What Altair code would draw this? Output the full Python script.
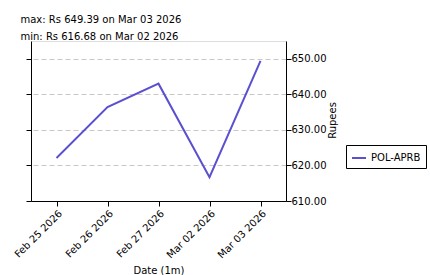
import altair as alt
import pandas as pd

dates = ["Feb 25 2026", "Feb 26 2026", "Feb 27 2026", "Mar 02 2026", "Mar 03 2026"]
prices = [622.1, 636.4, 643.0, 616.68, 649.39]
series = ["POL-APRB"] * 5
y_ticks = [610, 620, 630, 640, 650]

df = pd.DataFrame({"date": dates, "price": prices, "series": series})

FONT = "DejaVu Sans"

x_enc = alt.X("date:O", sort=dates, scale=alt.Scale(paddingOuter=0.5, paddingInner=0),
              axis=alt.Axis(title="Date (1m)", labelAngle=-45, labelFontSize=10, titleFontSize=10,
                            titleFontWeight="normal", labelColor="black", titleColor="black",
                            domainColor="black", tickColor="black", tickSize=5, labelPadding=2,
                            titlePadding=6, grid=False, labelFont=FONT, titleFont=FONT))

yscale = alt.Scale(domain=[610, 655], nice=False, zero=False)

line = alt.Chart(df).mark_line(strokeWidth=2).encode(
    x=x_enc,
    y=alt.Y("price:Q", scale=yscale,
            axis=alt.Axis(orient="right", values=y_ticks, format=".2f", title="Rupees",
                          titleAngle=270, titleFontWeight="normal", titleFontSize=10,
                          labelFontSize=10, labelColor="black", titleColor="black",
                          domainColor="black", tickColor="black", tickSize=5, labelPadding=0,
                          grid=True, gridColor="#c8c8c8", gridDash=[5, 3],
                          titleX=46, titleY=79, titleAlign="center", titleBaseline="middle",
                          labelFont=FONT, titleFont=FONT)),
    color=alt.Color("series:N", scale=alt.Scale(range=["#5b50d0"]),
                    legend=alt.Legend(title=None, orient="none", legendX=315, legendY=104,
                                      strokeColor="black", padding=5, symbolType="stroke",
                                      symbolStrokeWidth=2, symbolSize=196, labelOffset=4,
                                      labelFontSize=10, labelColor="black", labelFont=FONT,
                                      cornerRadius=0)),
)

left = alt.Chart(df).mark_line(opacity=0).encode(
    x=alt.X("date:O", sort=dates, scale=alt.Scale(paddingOuter=0.5, paddingInner=0)),
    y=alt.Y("price:Q", scale=yscale,
            axis=alt.Axis(orient="left", values=y_ticks, labels=False, title=None, grid=False,
                          domainColor="black", tickColor="black", tickSize=5)),
)

chart = alt.layer(line, left).resolve_axis(y="independent").properties(
    width=255, height=160,
    title=alt.TitleParams(text=["max: Rs 649.39 on Mar 03 2026", "min: Rs 616.68 on Mar 02 2026"],
                          anchor="start", fontSize=10, fontWeight="normal", font=FONT,
                          color="black", dx=8, offset=-1, lineHeight=17),
    autosize=alt.AutoSizeParams(type="none"),
    padding={"left": 31, "top": 41, "right": 144, "bottom": 74},
).configure_view(stroke=None).configure(background="white")

chart.save("out.html", embed_options={"renderer": "svg", "actions": False})
